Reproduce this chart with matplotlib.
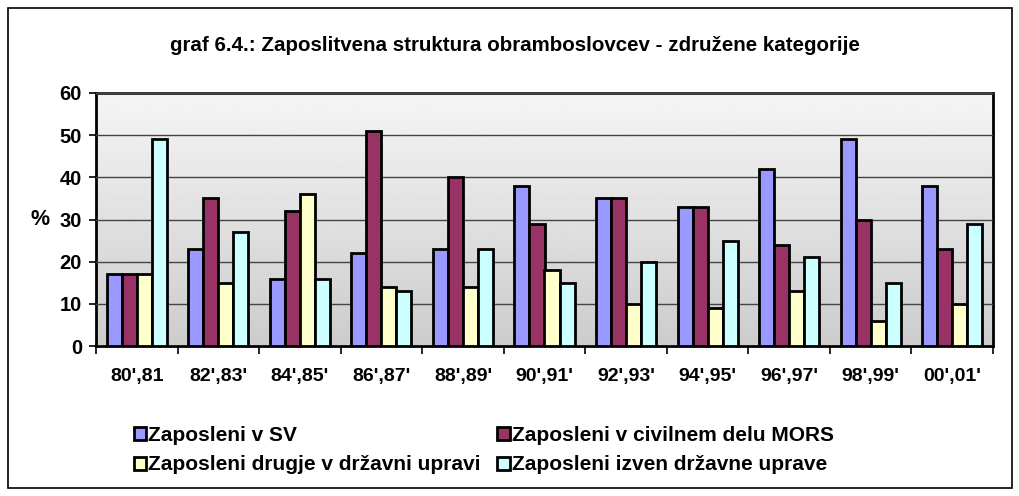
import numpy as np
import matplotlib.pyplot as plt
from matplotlib.patches import Rectangle

plt.rcParams['font.family'] = ['Liberation Sans', 'DejaVu Sans']
plt.rcParams['font.weight'] = 'bold'

# Categories and series values (percent)
years = ["80',81", "82',83'", "84',85'", "86',87'", "88',89'", "90',91'",
         "92',93'", "94',95'", "96',97'", "98',99'", "00',01'"]
sv = [17, 23, 16, 22, 23, 38, 35, 33, 42, 49, 38]
mors = [17, 35, 32, 51, 40, 29, 35, 33, 24, 30, 23]
drugje = [17, 15, 36, 14, 14, 18, 10, 9, 13, 6, 10]
izven = [49, 27, 16, 13, 23, 15, 20, 25, 21, 15, 29]

series = [sv, mors, drugje, izven]
labels = ['Zaposleni v SV', 'Zaposleni v civilnem delu MORS',
          'Zaposleni drugje v državni upravi', 'Zaposleni izven državne uprave']
colors = ['#9999FF', '#993366', '#FFFFCC', '#CCFFFF']

fig = plt.figure(figsize=(10.2, 4.96), dpi=100)
fig.patches.append(Rectangle((0.008, 0.016), 0.984, 0.968, transform=fig.transFigure,
                             fill=False, edgecolor='black', linewidth=1.2))

ax = fig.add_axes([96 / 1020, 1 - 346 / 496, 897 / 1020, 253 / 496])

# gradient background
n = len(years)
grad = np.linspace(0.96, 0.80, 256).reshape(-1, 1)
ax.imshow(grad, cmap='gray', vmin=0, vmax=1, aspect='auto',
          extent=[-0.5, n - 0.5, 0, 60], origin='upper', zorder=0)

x = np.arange(n)
w = 0.184
bars = []
for i, (vals, lab, col) in enumerate(zip(series, labels, colors)):
    b = ax.bar(x + (i - 1.5) * w, vals, width=w, color=col, edgecolor='black',
               linewidth=2, label=lab, zorder=3)
    bars.append(b)

ax.set_xlim(-0.5, n - 0.5)
ax.set_ylim(0, 60)
ax.set_yticks(range(0, 61, 10))
ax.yaxis.grid(True, color='#444444', linewidth=1, zorder=1)
ax.set_axisbelow(False)
ax.set_xticks(x)
ax.set_xticklabels(years, fontsize=14, fontweight='bold')
ax.set_xticks(np.arange(-0.5, n, 1), minor=True)
ax.tick_params(axis='x', which='major', length=0, pad=16)
ax.tick_params(axis='x', which='minor', length=6, width=1.2, direction='out')
ax.tick_params(axis='y', length=5, width=1.2, labelsize=14.5, pad=5)
for lbl in ax.get_yticklabels():
    lbl.set_fontweight('bold')
for s in ax.spines.values():
    s.set_linewidth(2)
ax.spines['top'].set_color('#222222')

ax.set_ylabel('%', rotation=0, fontsize=15.5, fontweight='bold', labelpad=7,
              ha='right', va='center')

fig.text(0.505, 0.909, 'graf 6.4.: Zaposlitvena struktura obramboslovcev - združene kategorije',
         ha='center', va='center', fontsize=14.8, fontweight='bold')

# legend is filled column by column: reorder so rows read SV, MORS / drugje, izven
order = [0, 2, 1, 3]
fig.legend([bars[i] for i in order], [labels[i] for i in order],
           loc='upper left', bbox_to_anchor=(0.131, 0.141),
           bbox_transform=fig.transFigure, ncol=2, frameon=False,
           fontsize=15, handlelength=0.6, handleheight=0.6, handletextpad=0.1,
           columnspacing=0.8, labelspacing=0.5, borderpad=0, borderaxespad=0)

fig.savefig('out.png', dpi=100)
